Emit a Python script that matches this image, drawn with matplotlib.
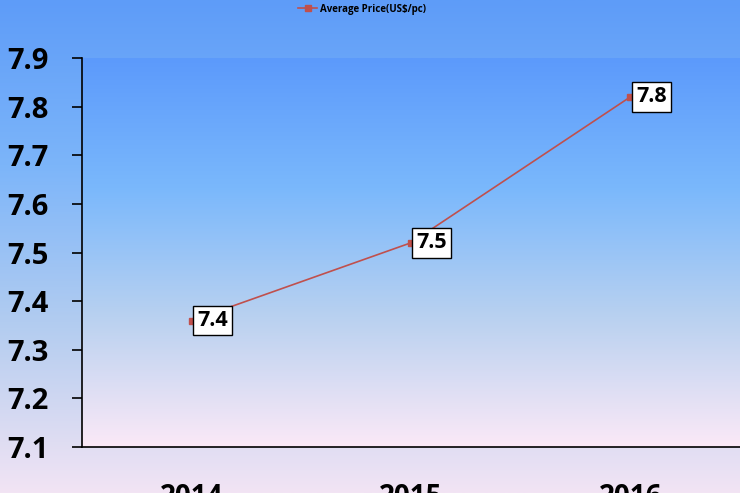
import numpy as np
import matplotlib
matplotlib.use("Agg")
import matplotlib.pyplot as plt
from matplotlib.colors import LinearSegmentedColormap

# データ
years = ["2014", "2015", "2016"]
avg_price = [7.36, 7.52, 7.82]
price_labels = ["7.4", "7.5", "7.8"]
y_ticks = [7.1, 7.2, 7.3, 7.4, 7.5, 7.6, 7.7, 7.8, 7.9]

plt.rcParams["font.family"] = ["Open Sans", "DejaVu Sans"]

fig = plt.figure(figsize=(7.4, 4.93), dpi=100)

# 背景グラデーション（図全体）
bg = fig.add_axes([0, 0, 1, 1], zorder=-10)
bg_cmap = LinearSegmentedColormap.from_list("bg", ["#5e9cf8", "#7cb5fa", "#b4cdf0", "#f2e4f4"])
bg.imshow(np.linspace(0, 1, 256).reshape(-1, 1), aspect="auto", cmap=bg_cmap,
          extent=[0, 1, 0, 1], origin="upper")
bg.axis("off")

ax = fig.add_axes([82 / 740, 46 / 493, 1 - 82 / 740, 389 / 493])

# プロット領域のグラデーション
area_cmap = LinearSegmentedColormap.from_list("area", ["#5c9afb", "#7ab8fc", "#b9d1f0", "#fbe9f7"])
ax.imshow(np.linspace(0, 1, 256).reshape(-1, 1), aspect="auto", cmap=area_cmap,
          extent=[0, 1, 0, 1], origin="upper", transform=ax.transAxes, zorder=0)

x = np.arange(len(years))
ax.plot(x, avg_price, color="#c0504d", lw=1.2, marker="s", ms=4,
        label="Average Price(US$/pc)", zorder=3)

for xi, yi, lab in zip(x, avg_price, price_labels):
    ax.annotate(lab, (xi, yi), xytext=(4, 0), textcoords="offset points",
                ha="left", va="center", fontsize=15.5, fontweight="bold",
                bbox=dict(boxstyle="square,pad=0.2", fc="white", ec="black", lw=1),
                zorder=4)

ax.set_xlim(-0.5, 2.5)
ax.set_ylim(7.1, 7.9)
ax.set_yticks(y_ticks)
ax.set_yticklabels([f"{v:.1f}" for v in y_ticks], fontsize=21, fontweight="bold")
ax.set_xticks(x)
ax.set_xticklabels(years, fontsize=20, fontweight="bold")
ax.tick_params(axis="y", direction="out", length=7.2, width=1.2, pad=17)
ax.tick_params(axis="x", length=0, pad=26)

ax.spines["top"].set_visible(False)
ax.spines["right"].set_visible(False)
ax.spines["left"].set_linewidth(1.2)
ax.spines["bottom"].set_linewidth(1.2)
ax.set_facecolor("none")

fig.legend(loc="upper center", bbox_to_anchor=(362 / 740, 1.01), frameon=False,
           prop={"size": 7, "weight": "bold"}, handlelength=2.0, handletextpad=0.3)

fig.savefig("out.png", dpi=100)
